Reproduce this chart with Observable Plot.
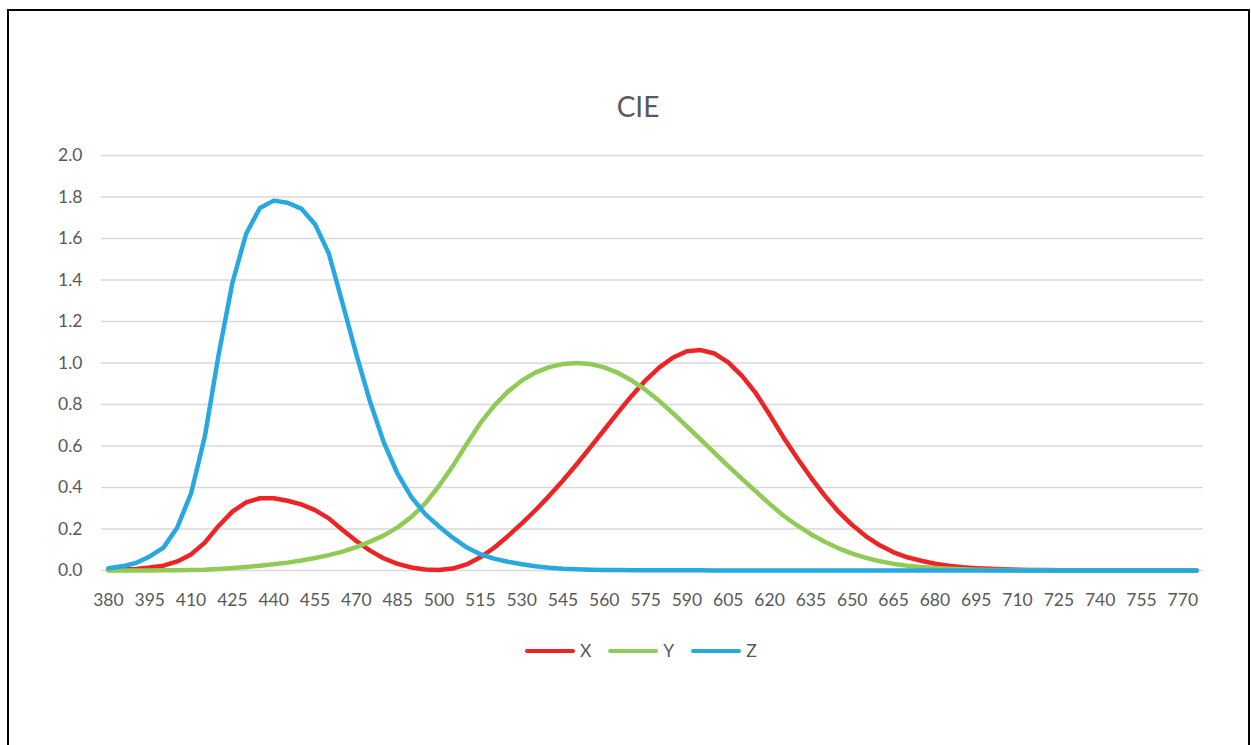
<!DOCTYPE html>
<html>
<head>
<meta charset="utf-8">
<script src="https://cdn.jsdelivr.net/npm/d3@7"></script>
<script src="https://cdn.jsdelivr.net/npm/@observablehq/plot@0.6"></script>
<style>
  html, body { margin: 0; padding: 0; background: #fff; overflow: hidden; }
  body { width: 1251px; height: 745px; position: relative; font-family: Lato, "Open Sans", sans-serif; color: #595959; }
  #frame { position: absolute; left: 7px; top: 9px; width: 1239px; height: 800px; border: 2px solid #000; border-bottom: none; }
  #title { position: absolute; left: 0; width: 1276px; top: 89px; text-align: center; font-size: 28px; line-height: 34px; color: #595959; }
  #chart { position: absolute; left: 0; top: 130px; }
  #legend { position: absolute; left: 525px; top: 640px; display: flex; align-items: center; font-size: 17.5px; line-height: 22px; }
  .item { display: flex; align-items: center; margin-right: 17px; }
  .swatch { width: 50px; height: 4.5px; border-radius: 2px; margin-right: 5px; }
</style>
</head>
<body>
<div id="frame"></div>
<div id="title">CIE</div>
<div id="chart"></div>
<div id="legend"></div>
<script>
// Wavelength categories (nm)
const wavelengths = [380,385,390,395,400,405,410,415,420,425,430,435,440,445,450,455,460,465,470,475,480,485,490,495,500,505,510,515,520,525,530,535,540,545,550,555,560,565,570,575,580,585,590,595,600,605,610,615,620,625,630,635,640,645,650,655,660,665,670,675,680,685,690,695,700,705,710,715,720,725,730,735,740,745,750,755,760,765,770,775];

// Tick labels shown on the category axis
const xTickLabels = [380,395,410,425,440,455,470,485,500,515,530,545,560,575,590,605,620,635,650,665,680,695,710,725,740,755,770];
const yTickLabels = [0,0.2,0.4,0.6,0.8,1.0,1.2,1.4,1.6,1.8,2.0];

// Series values
const X = [0.002236,0.004243,0.00765,0.01431,0.02319,0.04351,0.07763,0.13438,0.21477,0.2839,0.3285,0.34828,0.34806,0.3362,0.3187,0.2908,0.2511,0.19536,0.1421,0.09564,0.05795,0.03201,0.0147,0.0049,0.0024,0.0093,0.0291,0.06327,0.1096,0.1655,0.22575,0.2904,0.3597,0.43345,0.51205,0.5945,0.6784,0.7621,0.8425,0.9163,0.9786,1.0263,1.0567,1.0622,1.0456,1.0026,0.9384,0.85445,0.7514,0.6424,0.5419,0.4479,0.3608,0.2835,0.2187,0.1649,0.1212,0.0874,0.0636,0.04677,0.0329,0.0227,0.01584,0.011359,0.008111,0.00579,0.004109,0.002899,0.002049,0.00144,0.001,0.00069,0.000476,0.000332,0.000235,0.000166,0.000117,0.000083,0.000059,0.000042];
const Y = [0.000064,0.00012,0.000217,0.000396,0.00064,0.00121,0.00218,0.004,0.0073,0.0116,0.01684,0.023,0.0298,0.038,0.048,0.06,0.0739,0.09098,0.1126,0.13902,0.1693,0.20802,0.2586,0.323,0.4073,0.503,0.6082,0.71,0.7932,0.862,0.91485,0.954,0.9803,0.99495,1.0,0.995,0.9786,0.952,0.9154,0.87,0.8163,0.757,0.6949,0.631,0.5668,0.503,0.4412,0.381,0.321,0.265,0.217,0.175,0.1382,0.107,0.0816,0.061,0.04458,0.032,0.0232,0.017,0.01192,0.00821,0.005723,0.004102,0.002929,0.002091,0.001484,0.001047,0.00074,0.00052,0.000361,0.000249,0.000172,0.00012,0.000085,0.00006,0.000042,0.00003,0.000021,0.000015];
const Z = [0.01055,0.02005,0.03621,0.06785,0.1102,0.2074,0.3713,0.6456,1.03905,1.3856,1.62296,1.74706,1.7826,1.77211,1.7441,1.6692,1.5281,1.28764,1.0419,0.81295,0.6162,0.46518,0.3533,0.272,0.2123,0.1582,0.1117,0.07825,0.05725,0.04216,0.02984,0.0203,0.0134,0.00875,0.00575,0.0039,0.00275,0.0021,0.0018,0.00165,0.0014,0.0011,0.001,0.0008,0.0006,0.00034,0.00024,0.00019,0.0001,0.00005,0.00003,0.00002,0.00001,0,0,0,0,0,0,0,0,0,0,0,0,0,0,0,0,0,0,0,0,0,0,0,0,0,0,0];

const seriesNames = ["X", "Y", "Z"];
const seriesColors = ["#ee2424", "#8fcb55", "#27a8e0"];
const seriesValues = [X, Y, Z];

const rows = [];
seriesNames.forEach((name, i) => {
  wavelengths.forEach((w, j) => rows.push({ w, v: seriesValues[i][j], s: name }));
});

const chart = Plot.plot({
  width: 1251,
  height: 500,
  marginLeft: 101,
  marginRight: 48,
  marginTop: 25,
  marginBottom: 60,
  style: { fontFamily: "Lato, 'Open Sans', sans-serif", fontSize: "17.5px", color: "#595959", background: "transparent", overflow: "visible" },
  x: { type: "point", domain: wavelengths, padding: 0.5, align: 0.5, label: null },
  y: { domain: [0, 2], label: null },
  marks: [
    Plot.ruleY(yTickLabels, { stroke: "#d9d9d9", strokeWidth: 1.3 }),
    Plot.axisY({ ticks: yTickLabels, tickSize: 0, tickPadding: 19, tickFormat: d => d.toFixed(1), label: null }),
    Plot.axisX({ ticks: xTickLabels, tickSize: 0, tickPadding: 23, label: null }),
    ...seriesNames.map((name, i) => Plot.line(rows.filter(r => r.s === name), {
      x: "w", y: "v", stroke: seriesColors[i], strokeWidth: 4.5, strokeLinejoin: "round", strokeLinecap: "round"
    }))
  ]
});
document.getElementById("chart").appendChild(chart);

const legend = document.getElementById("legend");
seriesNames.forEach((name, i) => {
  const item = document.createElement("div");
  item.className = "item";
  const sw = document.createElement("div");
  sw.className = "swatch";
  sw.style.background = seriesColors[i];
  const lab = document.createElement("span");
  lab.textContent = name;
  item.appendChild(sw);
  item.appendChild(lab);
  legend.appendChild(item);
});
</script>
</body>
</html>
